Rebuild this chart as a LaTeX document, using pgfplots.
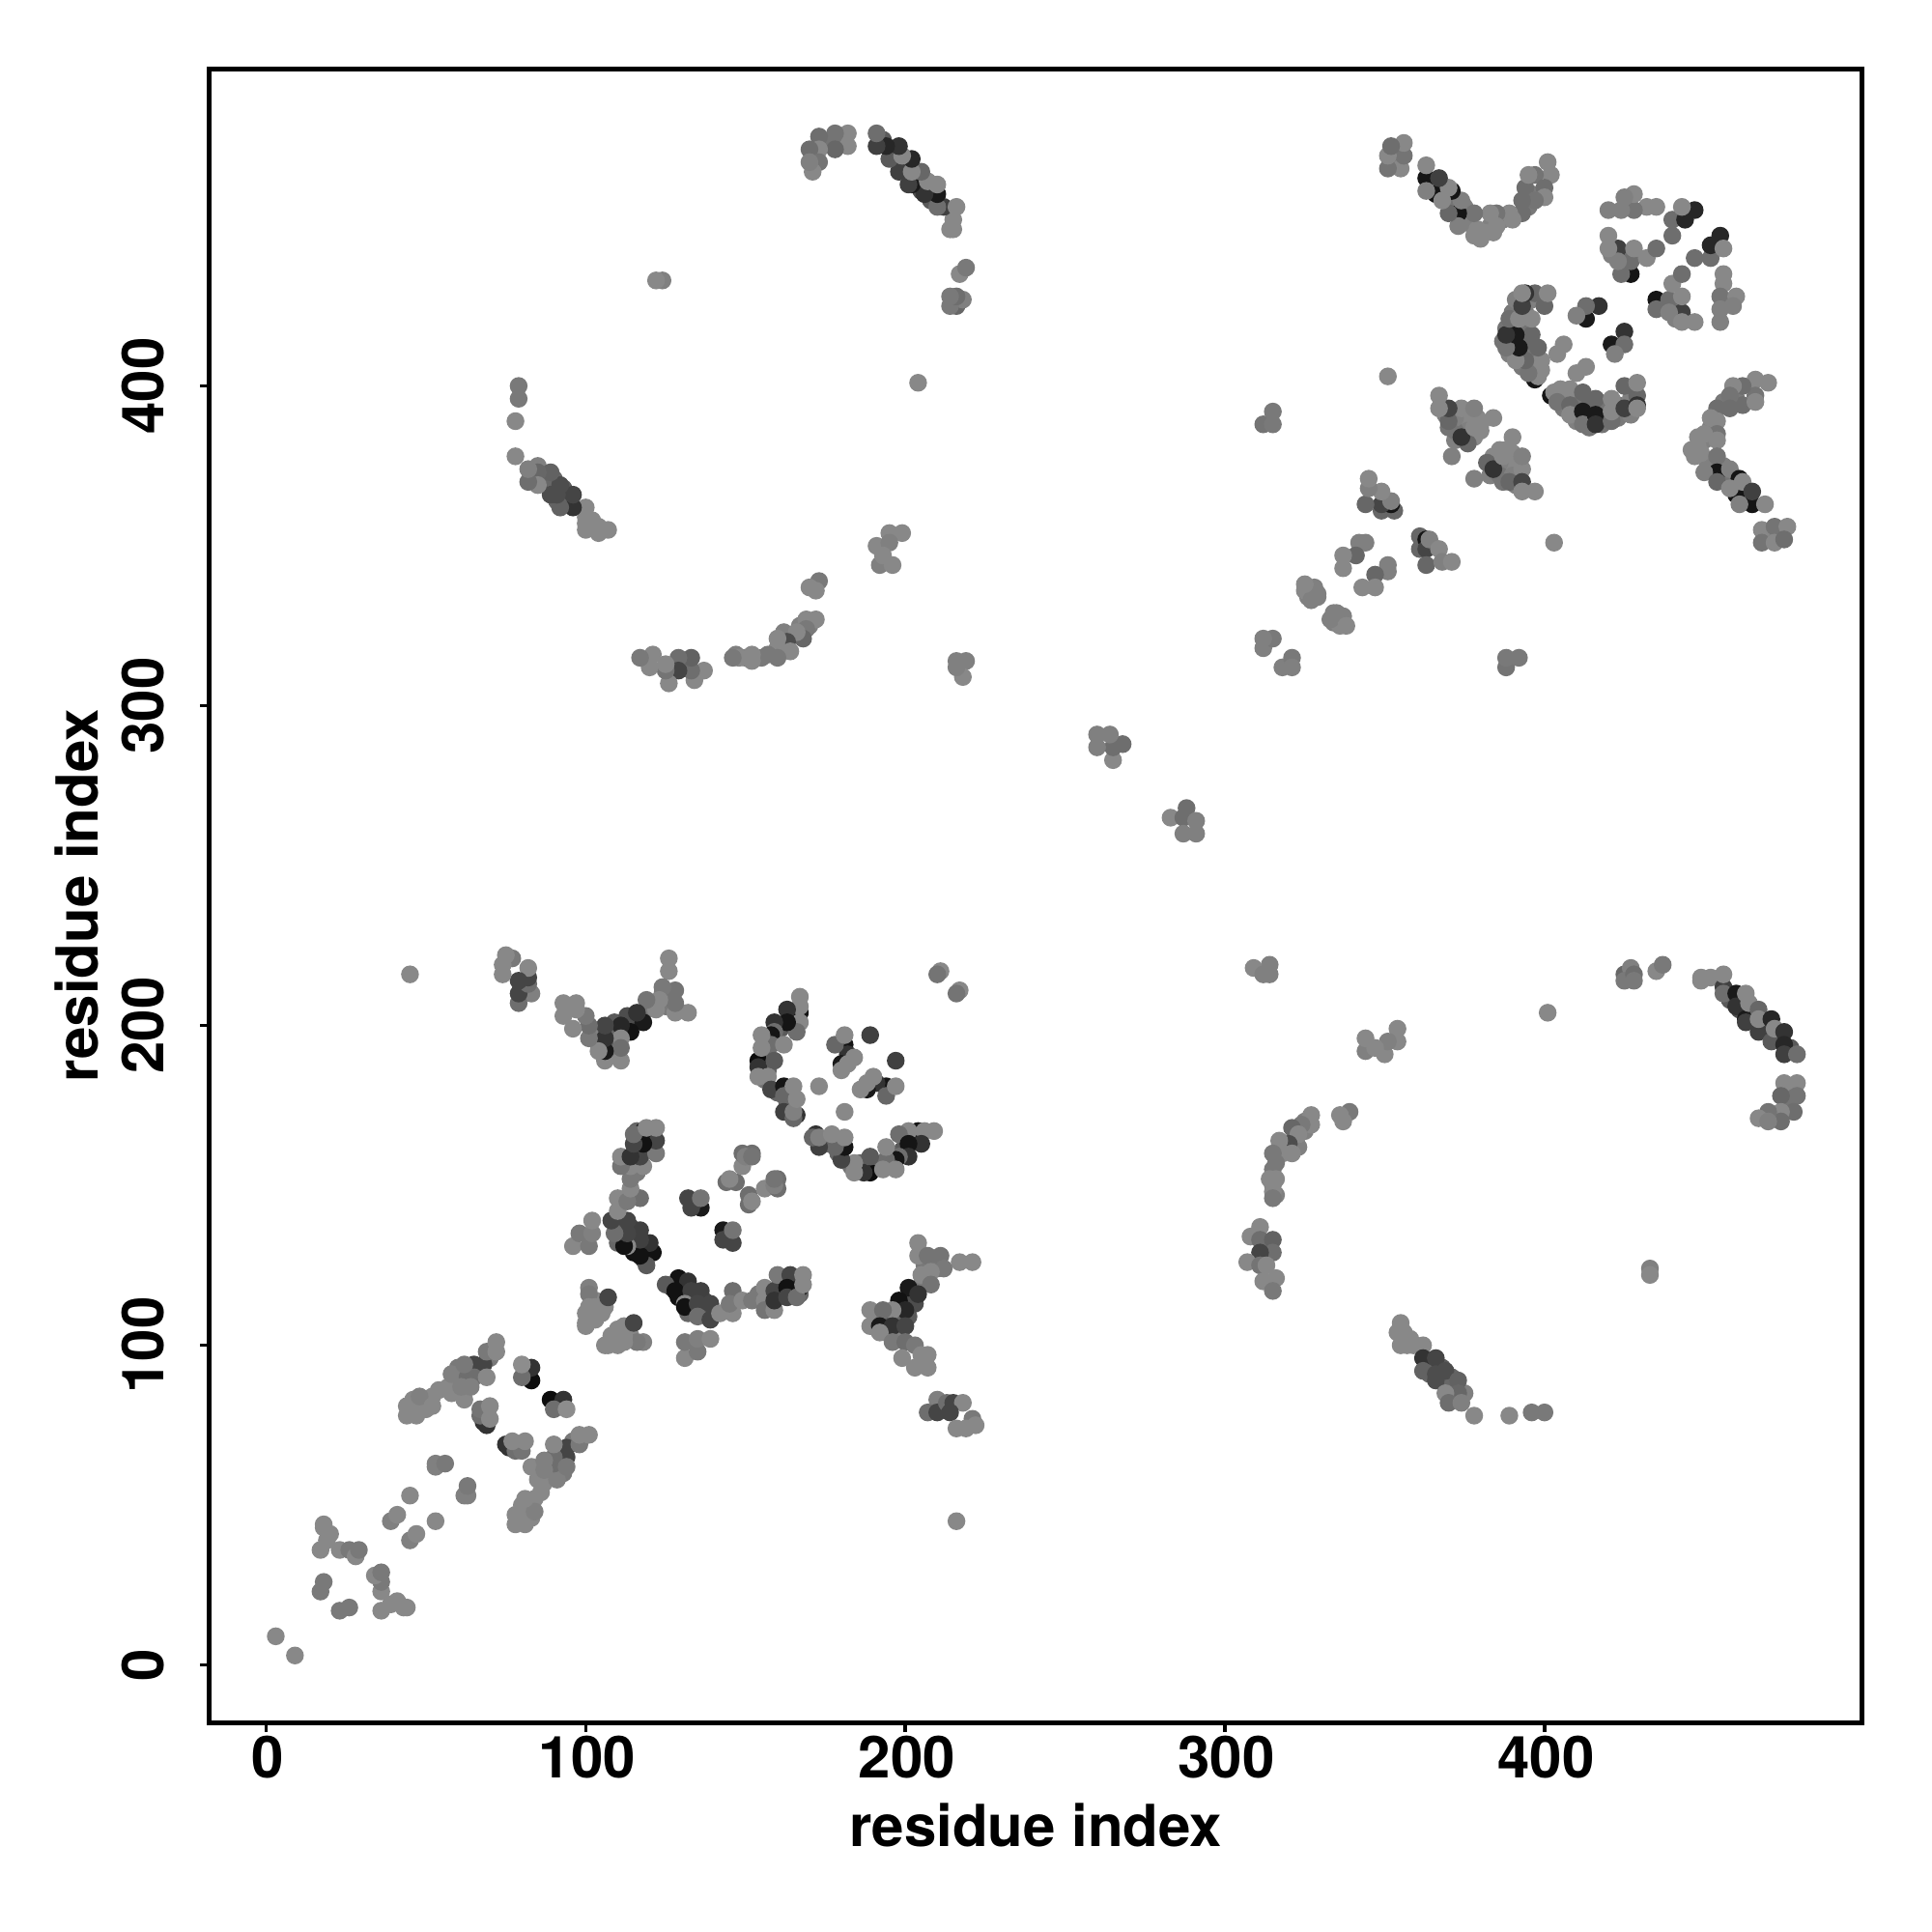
\documentclass[border=0pt]{standalone}
\usepackage{pgfplots}
\usepackage{pgfplotstable}
\usepackage{fontspec}
\setmainfont{TeX Gyre Heros}
\pgfplotsset{compat=1.18}
\pgfplotstableread{
x y g
384 378 .53
386 380 .53
388 380 .53
390 379 .53
389 376 .53
391 376 .53
386 376 .5
383 372 .5
386 372 .45
390 372 .5
387 370 .45
391 369 .5
405 397 .47
406 393 .47
409 396 .47
410 392 .45
411 396 .45
414 394 .4
414 390 .4
418 393 .45
419 390 .45
423 394 .47
423 390 .47
427 396 .5
427 391 .5
406 395 .5
410 389 .5
414 387 .45
418 388 .45
356 104 .53
356 102 .53
359 100 .53
364 94 .4
364 91 .4
368 93 .35
371 90 .4
371 87 .4
375 85 .5
456 395 .47
460 396 .47
452 387 .5
450 383 .5
448 381 .53
451 376 .5
456 372 .45
459 369 .45
456 375 .5
463 366 .4
334 329 .5
336 327 .5
337 328 .5
334 326 .5
336 325 .53
318 162 .5
319 161 .5
322 164 .47
325 170 .5
325 167 .5
323 162 .5
315 155 .47
315 150 .5
316 147 .5
191 108 .5
194 104 .5
198 106 .4
202 114 .3
206 120 .47
198 110 .4
194 108 .35
197 104 .5
201 109 .35
203 113 .3
205 119 .47
206 125 .47
210 124 .47
175 163 .4
179 160 .4
183 156 .45
186 157 .4
191 156 .4
195 156 .45
199 161 .35
203 165 .35
110 100 .53
114 103 .53
118 101 .5
110 105 .53
157 112 .45
161 116 .4
165 118 .35
167 116 .4
161 120 .4
154 116 .47
127 118 .25
130 116 .25
134 115 .3
137 111 .35
132 110 .4
137 114 .3
80 46 .53
83 46 .53
80 50 .53
84 52 .53
88 60 .5
90 60 .47
92 62 .47
85 58 .53
93 60 .47
96 70 .47
458 208 .35
461 205 .3
465 204 .3
469 200 .35
473 196 .3
477 193 .35
477 178 .45
476 175 .45
472 171 .5
470 353 .5
474 354 .5
437 425 .45
441 425 .47
441 421 .5
9 3 .53
23 17 .47
26 18 .47
36 17 .53
39 19 .53
41 20 .53
44 18 .53
36 23 .53
36 26 .47
34 28 .53
36 29 .47
43 18 .53
45 39 .5
47 41 .53
53 45 .53
62 53 .5
63 53 .5
63 56 .47
78 44 .53
81 44 .53
78 47 .53
84 48 .5
81 52 .53
86 54 .53
87 57 .53
91 58 .5
83 62 .53
94 65 .27
94 68 .27
90 63 .43
90 65 .43
87 61 .5
87 64 .5
94 62 .47
90 69 .53
98 69 .47
98 72 .53
101 72 .53
89 83 .05
93 83 .2
90 80 .43
94 80 .55
76 68 .2
75 69 .2
78 67 .43
80 67 .45
77 70 .53
81 70 .53
116 101 .47
112 101 .53
112 106 .53
108 103 .53
107 100 .53
109 102 .53
112 103 .53
106 100 .53
115 107 .27
131 96 .53
135 98 .47
131 101 .47
135 102 .5
139 102 .53
129 121 .07
132 120 .2
125 119 .35
128 117 .07
129 115 .07
133 117 .25
136 117 .25
131 113 .53
131 112 .07
135 113 .27
139 113 .27
135 109 .43
139 108 .27
142 110 .53
146 110 .53
146 117 .43
145 113 .47
149 114 .53
152 114 .47
156 118 .53
156 114 .53
156 111 .45
159 111 .53
159 117 .27
159 114 .2
160 122 .47
164 122 .27
163 118 .07
163 115 .27
167 118 .07
166 115 .43
168 119 .53
168 122 .53
204 132 .53
204 128 .53
207 128 .45
211 128 .45
217 126 .53
221 126 .53
212 124 .47
208 123 .53
205 122 .53
208 119 .45
201 118 .1
204 116 .2
198 114 .07
200 111 .15
196 111 .53
189 111 .53
193 111 .43
189 106 .53
192 106 .1
196 106 .2
200 106 .27
192 104 .53
196 101 .47
200 101 .43
203 100 .47
199 96 .53
205 97 .53
207 97 .53
203 93 .53
207 93 .53
210 83 .5
207 79 .43
210 79 .27
213 82 .43
215 82 .27
218 82 .53
214 79 .27
216 74 .53
221 77 .47
219 74 .53
222 75 .53
216 45 .53
143 136 .1
143 133 .27
146 132 .27
146 136 .45
151 147 .43
151 144 .43
152 145 .53
156 149 .53
160 152 .43
160 149 .43
159 150 .5
159 152 .45
197 189 .25
194 181 .08
191 182 .2
188 180 .1
190 184 .53
188 182 .53
186 180 .53
194 178 .4
197 181 .53
181 173 .53
204 167 .08
209 167 .53
206 167 .53
201 167 .53
198 166 .43
205 163 .2
201 163 .08
201 159 .2
198 159 .43
197 158 .08
194 158 .43
194 162 .53
189 154 .05
187 154 .2
189 159 .35
197 155 .53
193 155 .53
184 154 .53
184 157 .53
180 158 .27
181 162 .08
178 162 .4
172 166 .2
173 162 .25
171 165 .4
173 165 .5
177 166 .53
181 165 .53
217 211 .53
216 210 .45
327 172 .53
327 169 .53
324 169 .47
321 168 .4
323 166 .53
320 163 .3
317 164 .53
321 160 .53
318 160 .53
315 160 .47
316 157 .47
316 152 .53
314 152 .53
315 148 .53
315 146 .47
339 173 .47
336 172 .53
337 170 .53
311 137 .53
308 134 .53
311 133 .43
315 133 .38
315 129 .43
311 129 .27
307 126 .53
311 125 .45
313 125 .53
312 120 .53
316 121 .53
315 117 .47
355 107 .53
354 104 .53
358 102 .53
355 100 .53
357 100 .53
362 100 .53
362 96 .2
366 96 .27
362 92 .38
369 92 .3
366 91 .3
366 89 .3
373 89 .38
373 85 .4
369 85 .53
370 82 .43
374 82 .5
378 78 .53
389 78 .53
396 79 .47
400 79 .47
401 204 .53
425 216 .4
427 218 .5
425 214 .47
428 216 .43
428 214 .47
435 217 .53
437 219 .47
449 215 .53
449 214 .53
452 215 .53
456 212 .25
456 216 .53
456 210 .43
460 210 .1
460 206 .2
463 202 .1
463 201 .25
463 210 .53
464 207 .53
467 198 .25
467 205 .4
467 202 .53
471 202 .15
471 195 .35
472 199 .53
475 198 .2
475 194 .15
475 191 .25
479 191 .43
475 182 .53
479 182 .53
479 178 .45
474 178 .4
478 173 .43
474 173 .53
474 170 .43
470 173 .45
467 171 .53
470 170 .5
288 268 .43
283 265 .53
287 265 .43
291 264 .5
287 260 .5
291 260 .5
314 216 .5
314 219 .5
309 218 .53
312 216 .5
354 199 .53
354 195 .53
350 191 .53
344 192 .5
344 196 .53
351 195 .5
347 193 .53
433 124 .5
433 122 .53
388 312 .45
388 315 .47
392 315 .47
361 353 .4
361 349 .4
363 352 .08
363 349 .27
363 344 .4
364 352 .5
367 349 .53
368 345 .5
371 345 .53
351 344 .5
351 342 .5
347 341 .4
347 337 .53
343 337 .53
335 328 .5
333 327 .5
335 329 .5
338 325 .53
318 312 .5
321 315 .47
321 312 .5
385 378 .53
382 376 .4
378 371 .5
384 374 .2
387 378 .53
393 374 .53
389 370 .4
393 370 .27
393 367 .53
397 367 .53
390 384 .53
393 378 .5
402 397 .08
403 398 .53
405 399 .53
404 395 .45
408 399 .53
408 394 .4
408 391 .53
412 398 .4
412 392 .1
412 388 .45
416 396 .4
416 391 .1
416 388 .2
421 396 .53
421 389 .43
421 392 .53
425 400 .4
425 393 .25
429 397 .4
429 394 .2
429 393 .53
429 401 .53
413 406 .53
410 404 .53
425 417 .2
421 413 .1
425 413 .43
422 410 .5
435 427 .08
439 427 .43
435 424 .43
443 423 .25
439 423 .5
443 428 .53
443 420 .53
447 420 .53
440 432 .53
443 435 .43
456 435 .53
456 432 .53
455 428 .45
460 428 .53
459 425 .5
455 424 .5
455 420 .5
447 440 .43
452 440 .43
452 444 .15
455 447 .15
456 443 .53
470 401 .53
466 402 .53
466 397 .45
462 400 .43
459 400 .53
462 394 .43
458 397 .45
466 395 .53
458 393 .43
454 393 .43
454 389 .53
452 390 .53
454 385 .45
450 385 .53
454 383 .53
448 384 .53
446 380 .53
447 378 .53
449 379 .53
454 378 .45
454 373 .08
450 373 .5
458 374 .5
454 370 .4
461 371 .08
460 366 .08
458 368 .53
462 370 .53
465 363 .08
461 363 .5
465 367 .25
469 363 .53
468 355 .53
472 356 .45
476 356 .53
468 351 .45
472 351 .53
475 352 .43
403 351 .53
}\pts
\begin{document}
\begin{tikzpicture}[x=1pt,y=1pt]
\useasboundingbox (0,0) rectangle (500,500);
\begin{axis}[
  at={(54.25pt,54.1pt)}, anchor=south west,
  scale only axis, width=427.5pt, height=428.1pt,
  xmin=-17.7, xmax=499.2, ymin=-18.1, ymax=499.2,
  axis line style={line width=1.25pt},
  xtick={0,100,200,300,400}, ytick={0,100,200,300,400},
  tick align=outside, major tick length=2.4pt,
  tick style={line width=0.85pt, color=black},
  xtick pos=bottom, ytick pos=left,
  /pgf/number format/assume math mode=true,
  scaled ticks=false,
  tick label style={font=\fontsize{15}{17}\selectfont\bfseries},
  yticklabel style={rotate=90, anchor=south, yshift=5.8pt},
  xticklabel style={anchor=north, yshift=2.5pt, xshift=0.4pt},
  xlabel={residue index}, ylabel={residue index},
  label style={font=\fontsize{15}{17}\selectfont\bfseries},
  xlabel style={at={(rel axis cs:0.5,0)}, anchor=center, yshift=-26.5pt},
  ylabel style={at={(rel axis cs:0,0.5)}, anchor=center, yshift=34.5pt},
  colormap={g}{color(0)=(black) color(1)=(white)},
  point meta min=0, point meta max=1,
  clip=true
]
\addplot[scatter, only marks, mark=*, mark size=2.1pt, point meta=explicit,
  scatter/use mapped color={draw=mapped color, fill=mapped color}]
  table[x=x,y=y,meta=g]{\pts};
\addplot[scatter, only marks, mark=*, mark size=2.1pt, point meta=explicit,
  scatter/use mapped color={draw=mapped color, fill=mapped color}]
  table[x=y,y=x,meta=g]{\pts};
\end{axis}
\end{tikzpicture}
\end{document}
